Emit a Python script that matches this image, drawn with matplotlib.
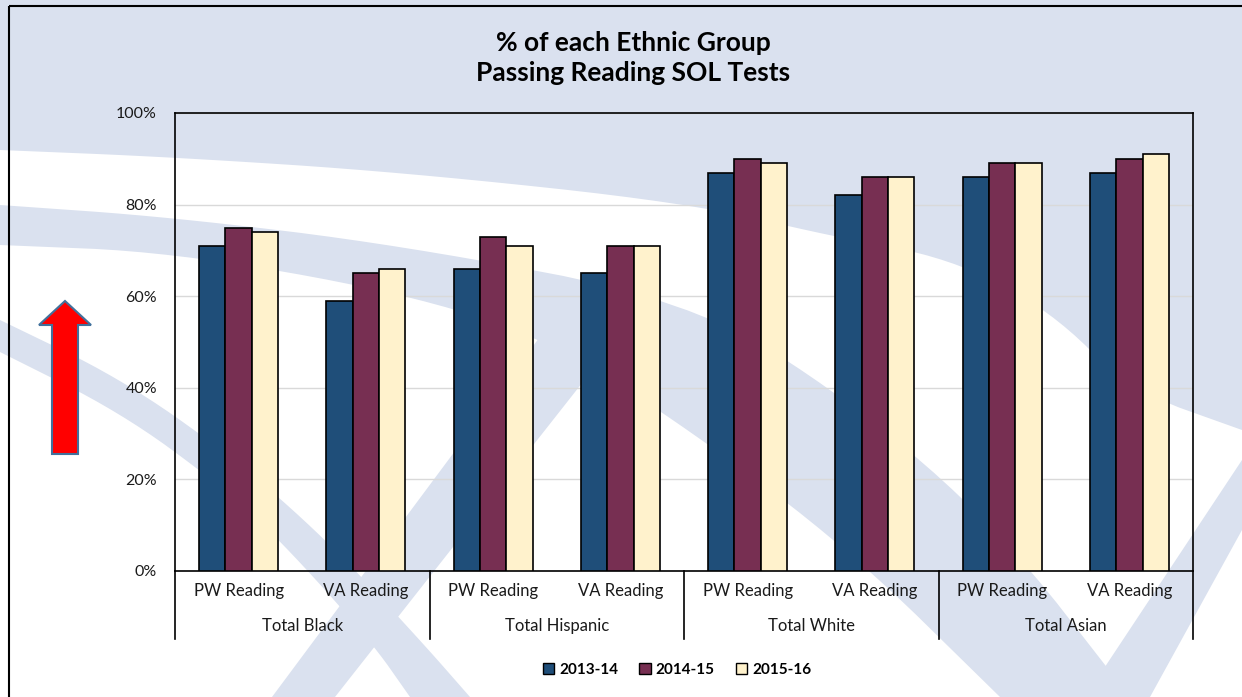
import matplotlib
matplotlib.use('Agg')
import matplotlib.pyplot as plt
import numpy as np
from matplotlib.patches import Polygon, Rectangle, Patch
import matplotlib.transforms as mtransforms

# ---------------- data ----------------
groups = ['Total Black', 'Total Hispanic', 'Total White', 'Total Asian']
subcats = ['PW Reading', 'VA Reading']
years = ['2013-14', '2014-15', '2015-16']
v2013 = [71, 59, 66, 65, 87, 82, 86, 87]
v2014 = [75, 65, 73, 71, 90, 86, 89, 90]
v2015 = [74, 66, 71, 71, 89, 86, 89, 91]
yticks = [0, 20, 40, 60, 80, 100]
ytick_labels = ['0%', '20%', '40%', '60%', '80%', '100%']
title_lines = ['% of each Ethnic Group', 'Passing Reading SOL Tests']

series = [v2013, v2014, v2015]
colors = ['#1f4e79', '#772f52', '#fff2cc']
FONT = ['Lato', 'DejaVu Sans']
plt.rcParams['font.family'] = FONT

W, H = 1242, 697
fig = plt.figure(figsize=(W / 100, H / 100), dpi=100)
fig.patch.set_facecolor('white')

# ---------------- decorative slide background ----------------
bg = fig.add_axes([0, 0, 1, 1], zorder=0)
bg.set_xlim(0, W)
bg.set_ylim(H, 0)
bg.axis('off')
LB = '#dae1ef'


def chaikin(pts, n=3):
    pts = np.asarray(pts, float)
    for _ in range(n):
        new = [pts[0]]
        for a, b in zip(pts[:-1], pts[1:]):
            new.append(0.75 * a + 0.25 * b)
            new.append(0.25 * a + 0.75 * b)
        new.append(pts[-1])
        pts = np.array(new)
    return pts


def band(edge1, edge2):
    e1 = chaikin(edge1)
    e2 = chaikin(edge2)
    pts = list(e1) + list(e2[::-1])
    bg.add_patch(Polygon(pts, closed=True, facecolor=LB, edgecolor='none'))


# upper light-blue region
upper = chaikin([(0, 150), (170, 157), (400, 172), (690, 203), (830, 236),
                 (950, 258), (1050, 310), (1130, 390), (1242, 430)])
bg.add_patch(Polygon([(0, 0), (W, 0)] + [(W, 430)] + list(upper[::-1]),
                     closed=True, facecolor=LB, edgecolor='none'))
# band B (sweeping diagonal)
band([(0, 205), (170, 217), (400, 245), (690, 300), (850, 400), (1000, 530), (1130, 697)],
     [(0, 245), (170, 252), (400, 292), (550, 340), (690, 430), (850, 550), (1000, 697)])
# band D (right "/")
bg.add_patch(Polygon([(W, 460), (W, 530), (1150, 697), (1085, 697)],
                     closed=True, facecolor=LB, edgecolor='none'))
# band E (left arc)
band([(0, 320), (120, 378), (230, 455), (327, 540), (420, 640), (470, 697)],
     [(0, 352), (120, 412), (220, 485), (280, 540), (370, 640), (410, 697)])
# band F ("/" lower middle)
bg.add_patch(Polygon([(545, 330), (612, 345), (335, 697), (272, 697)],
                     closed=True, facecolor=LB, edgecolor='none'))

# red arrow
arrow = [(52, 454), (78, 454), (78, 325), (91, 325), (65, 301), (39, 325), (52, 325)]
bg.add_patch(Polygon(arrow, closed=True, facecolor='#ff0000', edgecolor='#41719c',
                     linewidth=1.5, zorder=5))
# chart border
bg.add_patch(Rectangle((9, 6), 1300, 800, facecolor='none', edgecolor='black',
                       linewidth=1.5, zorder=6))

# ---------------- chart ----------------
ax = fig.add_axes([175 / W, 1 - 571 / H, (1193 - 175) / W, (571 - 113) / H], zorder=1)
ax.set_facecolor('none')
n = len(v2013)
x = np.arange(n)
bw = 0.207
for i, (vals, c, lab) in enumerate(zip(series, colors, years)):
    ax.bar(x + (i - 1) * bw, vals, width=bw, color=c, edgecolor='black',
           linewidth=1.2, label=lab, zorder=3)

ax.set_xlim(-0.5, n - 0.5)
ax.set_ylim(0, 100)
ax.set_yticks(yticks)
ax.set_yticklabels(ytick_labels, fontsize=11.5, color='#1a1a1a')
ax.tick_params(axis='y', length=0, pad=13)
ax.set_xticks([])
ax.yaxis.grid(True, color='#d9d9d9', linewidth=1.0, zorder=0)
ax.set_axisbelow(True)
for s in ax.spines.values():
    s.set_color('black')
    s.set_linewidth(1.2)

trans = mtransforms.blended_transform_factory(ax.transData, ax.transAxes)
for i in range(n):
    ax.text(x[i], -0.0437, subcats[i % 2], transform=trans, ha='center', va='center',
            fontsize=12, color='#1a1a1a')
for g, name in enumerate(groups):
    ax.text(2 * g + 0.5, -0.120, name, transform=trans, ha='center', va='center',
            fontsize=12, color='#1a1a1a')
for b in np.arange(-0.5, n, 2):
    ax.plot([b, b], [0, -0.1485], transform=trans, color='black', linewidth=1.2,
            clip_on=False)

# title
fig.text(633 / W, 1 - 43 / H, title_lines[0], ha='center', va='center',
         fontsize=19, fontweight='bold', color='black')
fig.text(633 / W, 1 - 73 / H, title_lines[1], ha='center', va='center',
         fontsize=19, fontweight='bold', color='black')

# legend
handles = [Patch(facecolor=c, edgecolor='black', linewidth=1.0) for c in colors]
fig.legend(handles, years, loc='center', bbox_to_anchor=(677 / W, 1 - 670 / H), ncol=3,
           frameon=False, prop={'weight': 'bold', 'size': 11}, handlelength=0.75,
           handleheight=0.75, handletextpad=0.3, columnspacing=1.4)

fig.savefig('out.png', dpi=100, facecolor=fig.get_facecolor())
